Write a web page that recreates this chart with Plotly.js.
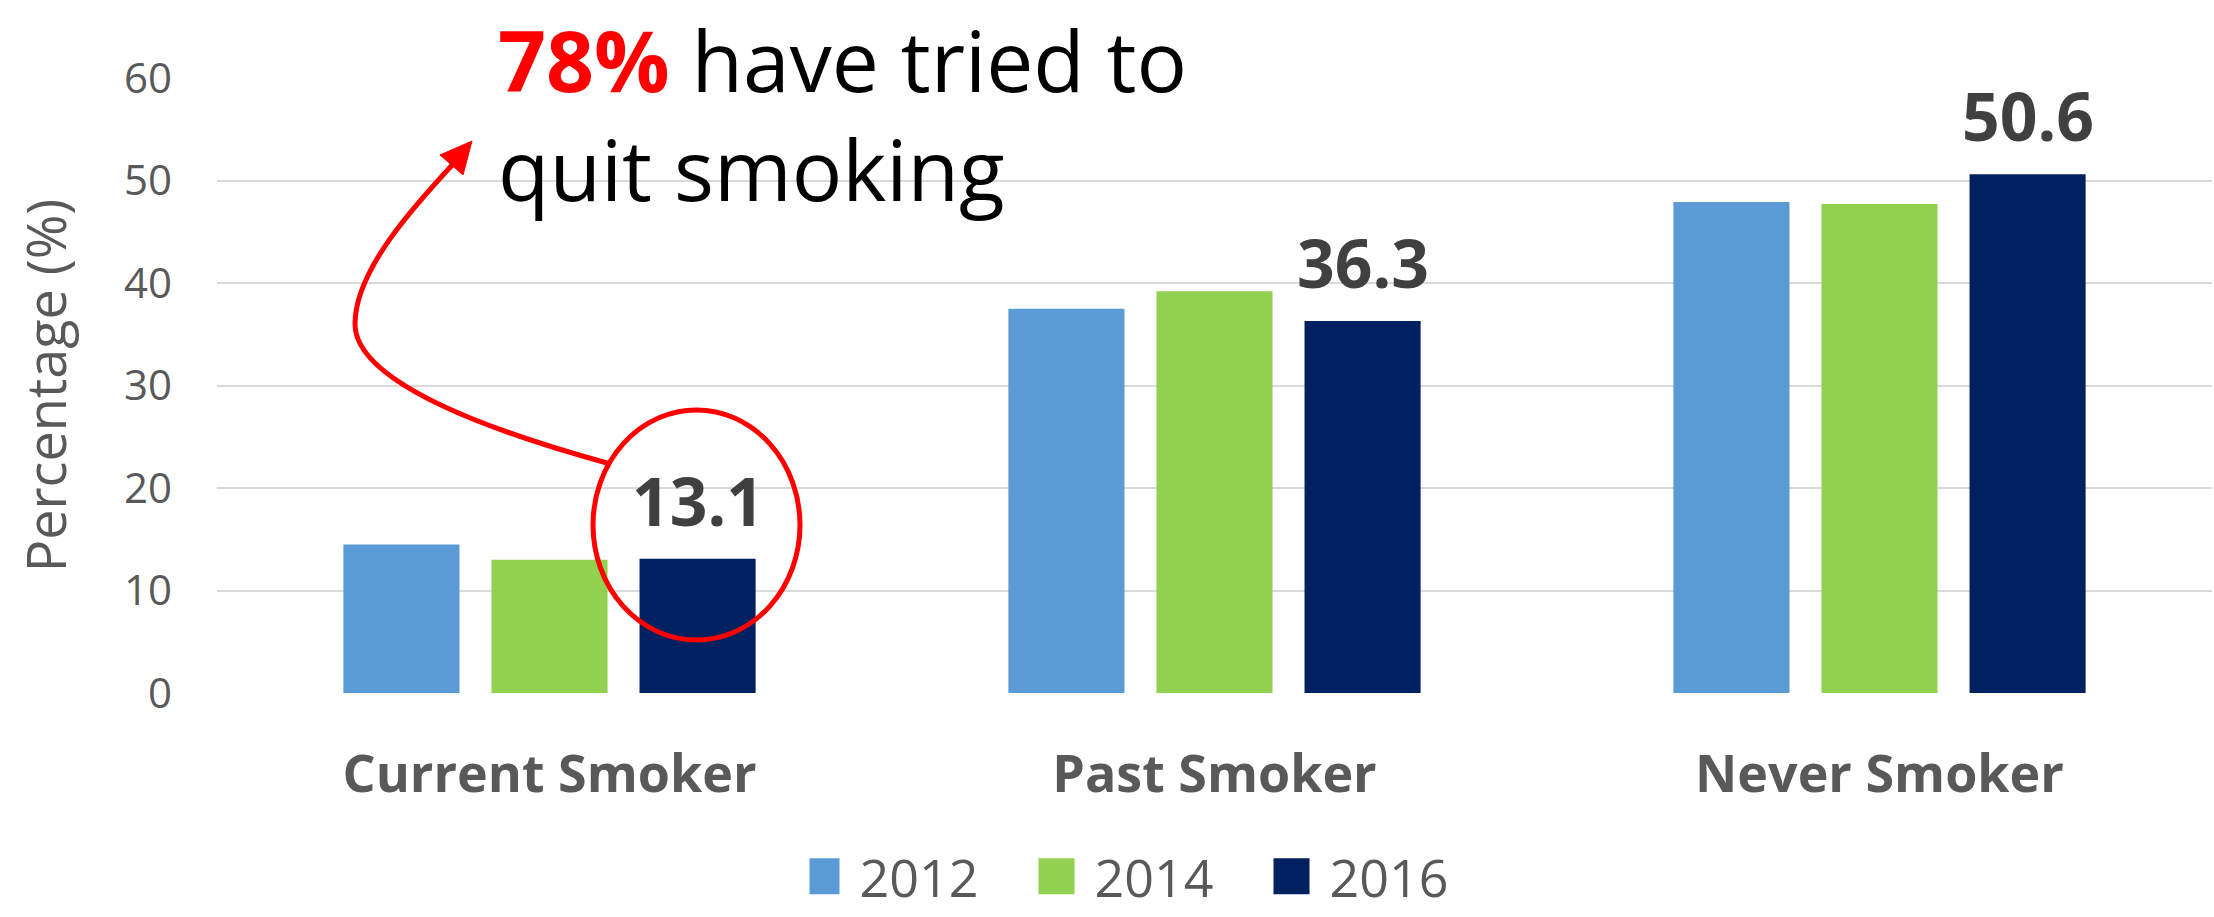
<!DOCTYPE html>
<html>
<head>
<meta charset="utf-8">
<script src="https://cdn.plot.ly/plotly-3.0.1.min.js"></script>
<style>
html,body{margin:0;padding:0;background:#fff;}
#chart{width:2214px;height:917px;}
</style>
</head>
<body>
<div id="chart"></div>
<script>
// ---- data ----
const categories = ['Current Smoker', 'Past Smoker', 'Never Smoker'];
const years = ['2012', '2014', '2016'];
const values2012 = [14.5, 37.5, 47.9];
const values2014 = [13.0, 39.2, 47.7];
const values2016 = [13.1, 36.3, 50.6];
const yTicks = [0, 10, 20, 30, 40, 50, 60];
const calloutText = ['78%', 'have tried to', 'quit smoking'];

// ---- style ----
const colors = ['#5B9BD5', '#92D050', '#002060'];
const W = 2214, H = 917;
const M = {l: 217, r: 2, t: 78, b: 224};
const bargap = 0.332, bargroupgap = 0.216;

// pixel -> paper helpers for decorative callout shapes
const plotW = W - M.l - M.r, plotH = H - M.t - M.b;
const px = x => (x - M.l) / plotW;
const py = y => (H - M.b - y) / plotH;

const series = [values2012, values2014, values2016];
const traces = series.map((vals, i) => ({
  type: 'bar',
  name: years[i],
  x: categories,
  y: vals,
  marker: {color: colors[i]},
  hoverinfo: 'skip'
}));

// data labels on the 2016 bars
const slot = (1 - bargap) / 3;
const labelAnns = values2016.map((v, i) => ({
  x: i + slot, y: v, xref: 'x', yref: 'y',
  text: '<b>' + v.toFixed(1) + '</b>',
  showarrow: false, yanchor: 'bottom', xanchor: 'center', yshift: 12,
  font: {family: 'Open Sans', size: 66, color: '#404040'}
}));

const callout = {
  xref: 'paper', yref: 'paper', x: px(496), y: py(0),
  xanchor: 'left', yanchor: 'top', align: 'left', showarrow: false,
  text: '<span style="color:#FF0000"><b>' + calloutText[0] + '</b></span> ' + calloutText[1] + '<br>' + calloutText[2],
  font: {family: 'Open Sans', size: 84, color: '#000000'}
};

function P(x, y) { return px(x).toFixed(5) + ',' + py(y).toFixed(5); }
const curvePath = 'M' + P(607, 463) + ' C' + P(480, 428) + ' ' + P(355, 380) + ' ' + P(355, 324) +
                  ' C' + P(355, 270) + ' ' + P(415, 205) + ' ' + P(455, 162);
const headPath = 'M' + P(472, 141) + ' L' + P(440, 155) + ' L' + P(463, 175) + ' Z';

const shapes = [
  {type: 'circle', xref: 'paper', yref: 'paper', x0: px(593), x1: px(800), y0: py(640), y1: py(410),
   line: {color: '#FF0000', width: 5}, fillcolor: 'rgba(0,0,0,0)'},
  {type: 'path', xref: 'paper', yref: 'paper', path: curvePath, line: {color: '#FF0000', width: 5}},
  {type: 'path', xref: 'paper', yref: 'paper', path: headPath, line: {color: '#FF0000', width: 1}, fillcolor: '#FF0000'}
];

const layout = {
  width: W, height: H,
  margin: M,
  paper_bgcolor: '#fff', plot_bgcolor: '#fff',
  barmode: 'group', bargap: bargap, bargroupgap: bargroupgap,
  font: {family: 'Open Sans', color: '#595959'},
  xaxis: {
    type: 'category', range: [-0.5, 2.5], showgrid: false, zeroline: false,
    showline: false, ticks: '', ticklabelstandoff: 46,
    tickfont: {family: 'Open Sans', size: 52, color: '#595959', weight: 'bold'},
    fixedrange: true, automargin: false
  },
  yaxis: {
    range: [0, 60], tickvals: yTicks, ticktext: yTicks.map(String),
    showgrid: true, gridcolor: '#D9D9D9', gridwidth: 2, zeroline: false, showline: false,
    ticks: '', ticklabelstandoff: 44,
    tickfont: {family: 'Open Sans', size: 42, color: '#595959'},
    title: {text: 'Percentage (%)', font: {family: 'Open Sans', size: 54, color: '#595959'}, standoff: 40},
    fixedrange: true, automargin: false
  },
  legend: {
    orientation: 'h', xref: 'container', yref: 'container',
    x: 1162 / W, xanchor: 'center', y: 0, yanchor: 'bottom',
    font: {family: 'Open Sans', size: 52, color: '#595959'},
    itemwidth: 40, entrywidth: 180, traceorder: 'normal'
  },
  annotations: labelAnns.concat([callout]),
  shapes: shapes,
  showlegend: true
};

Plotly.newPlot('chart', traces, layout, {staticPlot: true}).then(() => {
  document.querySelectorAll('.legendpoints path').forEach(p => {
    p.setAttribute('d', 'M5,18H-31V-18H5Z');
  });
});
</script>
</body>
</html>
